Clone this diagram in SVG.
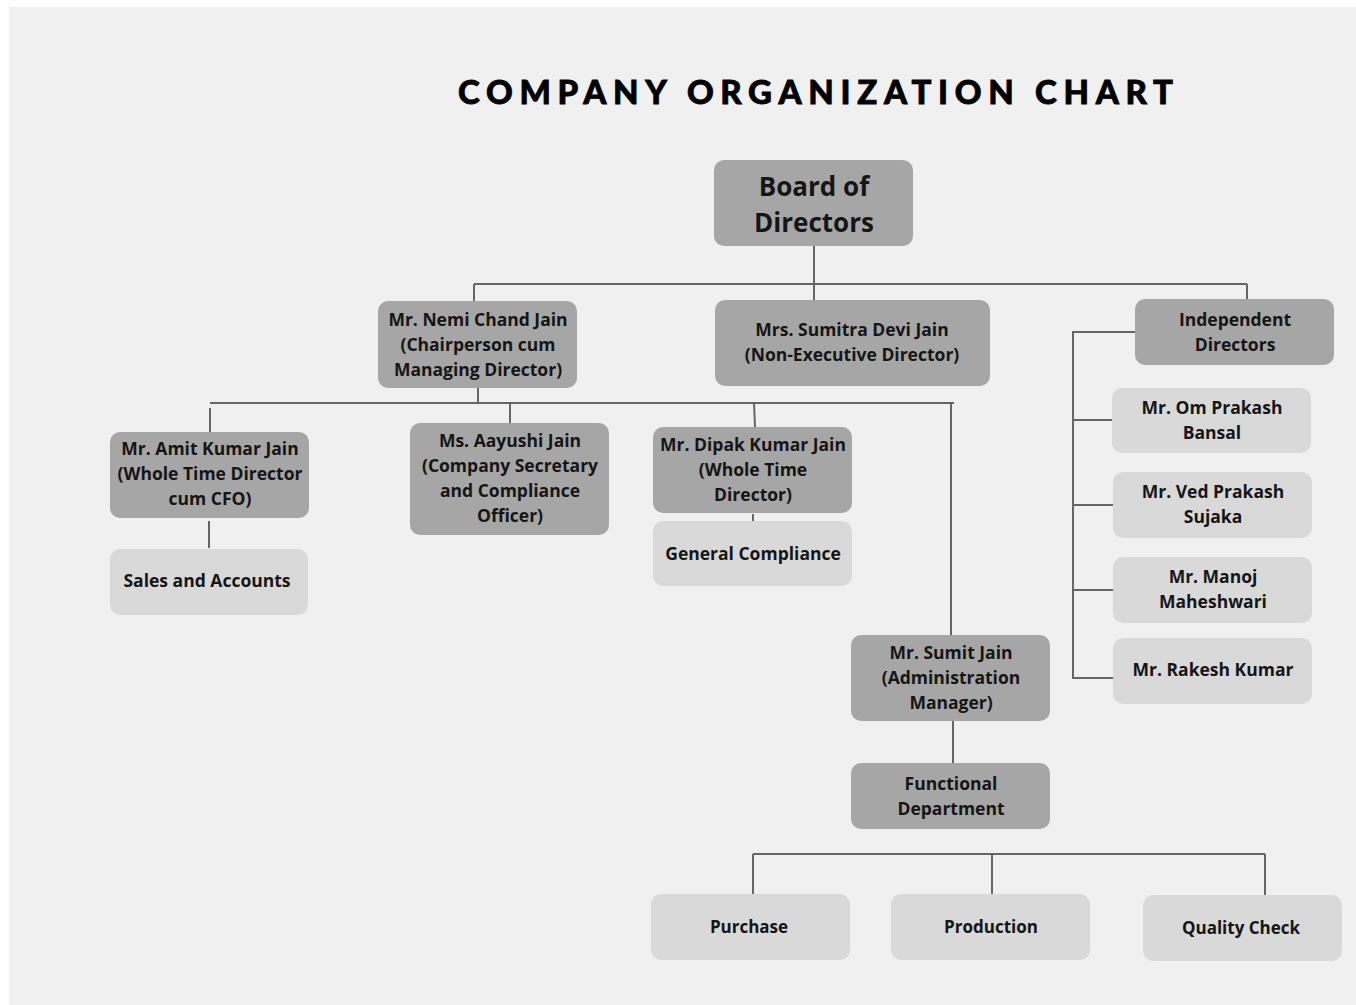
<svg xmlns="http://www.w3.org/2000/svg" width="1356" height="1005" viewBox="0 0 1356 1005">
<style>
.dk{fill:#a6a6a6}
.lt{fill:#d9d9d9}
.t{font-family:"Open Sans","Liberation Sans",sans-serif;font-weight:700;font-size:17.5px;fill:#151515;text-anchor:middle}
.tb{font-family:"Open Sans","Liberation Sans",sans-serif;font-weight:700;font-size:26px;fill:#151515;text-anchor:middle}
.tc{font-family:"Open Sans","Liberation Sans",sans-serif;font-weight:700;font-size:17px;fill:#151515;text-anchor:middle}
.ln{stroke:#666;stroke-width:2;fill:none}
.title{font-family:"Lato","Liberation Sans",sans-serif;font-weight:900;font-size:33px;fill:#000;stroke:#000;stroke-width:0.8}
</style>
<rect x="0" y="0" width="1356" height="1005" fill="#ffffff"/>
<rect x="9" y="7" width="1347" height="998" fill="#f0f0f0"/>
<text class="title" x="458" y="104" textLength="715" lengthAdjust="spacing">COMPANY ORGANIZATION CHART</text>

<g id="connectors">
<path class="ln" d="M814 246V284M474 284H1247M474 284V301M814 284V300M1247 284V299"/>
<path class="ln" d="M478 388V403M210 403H954M210 408V432M510 403V423M754 403L755 427M951 403V635"/>
<path class="ln" d="M209 521V548M753 514V521M953 721V763"/>
<path class="ln" d="M753 854H1265M753 854V894M992 854V894M1265 854V895"/>
<path class="ln" d="M1135 332H1073V678H1113M1073 420H1112M1073 505H1113M1073 590H1113"/>
</g>

<g id="board"><rect class="dk" x="714" y="160" width="199" height="86" rx="10"/><text class="tb" x="814" y="196">Board of</text><text class="tb" x="814" y="232">Directors</text></g>
<g id="nemi"><rect class="dk" x="378" y="301" width="199" height="87" rx="10"/><text class="t" x="478" y="326">Mr. Nemi Chand Jain</text><text class="t" x="478" y="351">(Chairperson cum</text><text class="t" x="478" y="376">Managing Director)</text></g>
<g id="sumitra"><rect class="dk" x="715" y="300" width="275" height="86" rx="10"/><text class="t" x="852" y="336">Mrs. Sumitra Devi Jain</text><text class="t" x="852" y="361">(Non-Executive Director)</text></g>
<g id="independent"><rect class="dk" x="1135" y="299" width="199" height="66" rx="10"/><text class="t" x="1235" y="326">Independent</text><text class="t" x="1235" y="351">Directors</text></g>
<g id="amit"><rect class="dk" x="110" y="432" width="199" height="86" rx="10"/><text class="t" x="210" y="455">Mr. Amit Kumar Jain</text><text class="t" x="210" y="480">(Whole Time Director</text><text class="t" x="210" y="505">cum CFO)</text></g>
<g id="sales"><rect class="lt" x="110" y="549" width="198" height="66" rx="10"/><text class="t" x="207" y="587">Sales and Accounts</text></g>
<g id="aayushi"><rect class="dk" x="410" y="423" width="199" height="112" rx="10"/><text class="t" x="510" y="447">Ms. Aayushi Jain</text><text class="t" x="510" y="472">(Company Secretary</text><text class="t" x="510" y="497">and Compliance</text><text class="t" x="510" y="522">Officer)</text></g>
<g id="dipak"><rect class="dk" x="653" y="427" width="199" height="86" rx="10"/><text class="t" x="753" y="451">Mr. Dipak Kumar Jain</text><text class="t" x="753" y="476">(Whole Time</text><text class="t" x="753" y="501">Director)</text></g>
<g id="general"><rect class="lt" x="653" y="521" width="199" height="65" rx="10"/><text class="t" x="753" y="560">General Compliance</text></g>
<g id="sumit"><rect class="dk" x="851" y="635" width="199" height="86" rx="10"/><text class="t" x="951" y="659">Mr. Sumit Jain</text><text class="t" x="951" y="684">(Administration</text><text class="t" x="951" y="709">Manager)</text></g>
<g id="functional"><rect class="dk" x="851" y="763" width="199" height="66" rx="10"/><text class="t" x="951" y="790">Functional</text><text class="t" x="951" y="815">Department</text></g>
<g id="purchase"><rect class="lt" x="651" y="894" width="199" height="66" rx="10"/><text class="tc" x="749" y="933">Purchase</text></g>
<g id="production"><rect class="lt" x="891" y="894" width="199" height="66" rx="10"/><text class="tc" x="991" y="933">Production</text></g>
<g id="quality"><rect class="lt" x="1143" y="895" width="199" height="66" rx="10"/><text class="tc" x="1241" y="934">Quality Check</text></g>
<g id="omprakash"><rect class="lt" x="1112" y="388" width="199" height="65" rx="10"/><text class="t" x="1212" y="414">Mr. Om Prakash</text><text class="t" x="1212" y="439">Bansal</text></g>
<g id="vedprakash"><rect class="lt" x="1113" y="472" width="199" height="66" rx="10"/><text class="t" x="1213" y="498">Mr. Ved Prakash</text><text class="t" x="1213" y="523">Sujaka</text></g>
<g id="manoj"><rect class="lt" x="1113" y="557" width="199" height="66" rx="10"/><text class="t" x="1213" y="583">Mr. Manoj</text><text class="t" x="1213" y="608">Maheshwari</text></g>
<g id="rakesh"><rect class="lt" x="1113" y="638" width="199" height="66" rx="10"/><text class="t" x="1213" y="676">Mr. Rakesh Kumar</text></g>
</svg>
